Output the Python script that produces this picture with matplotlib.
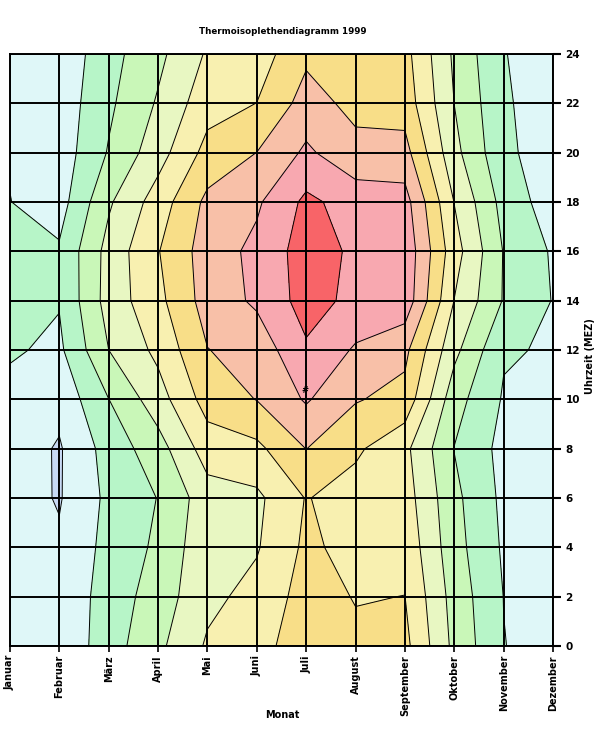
import numpy as np
import matplotlib
matplotlib.use("Agg")
import matplotlib.pyplot as plt

plt.rcParams["font.family"] = ["DejaVu Sans"]
plt.rcParams["font.weight"] = "bold"

months = ["Januar", "Februar", "März", "April", "Mai", "Juni", "Juli",
          "August", "September", "Oktober", "November", "Dezember"]
hours = [0, 2, 4, 6, 8, 10, 12, 14, 16, 18, 20, 22, 24]

# mean temperature per month, hours 0..24
t_jan = [0.9, 0.9, 0.9, 0.86, 1.01, 1.39, 2.23, 2.3, 2.3, 2.03, 1.87, 1.3, 1.0]
t_feb = [0.38, 0.5, 0.28, -0.15, -0.19, 0.56, 1.61, 2.13, 2.25, 1.15, 0.87, 0.77, 0.55]
t_mar = [3.1, 2.88, 2.62, 2.45, 2.8, 3.98, 6.0, 6.81, 6.7, 5.72, 4.16, 3.63, 3.29]
t_apr = [5.55, 4.94, 4.37, 4.06, 5.15, 7.12, 8.5, 9.46, 9.9, 8.95, 7.16, 6.22, 5.51]
t_mai = [8.26, 7.5, 7.43, 7.12, 8.98, 10.84, 11.95, 12.85, 12.96, 12.49, 10.67, 9.22, 8.24]
t_jun = [9.3, 8.64, 7.83, 7.58, 9.53, 12.06, 12.78, 14.34, 14.51, 13.7, 12.02, 10.02, 9.0]
t_jul = [11.1, 10.8, 10.4, 10.1, 12.03, 14.22, 15.73, 16.81, 16.93, 16.44, 14.36, 12.8, 11.6]
t_aug = [10.4, 9.9, 9.33, 9.13, 10.35, 12.15, 13.76, 15.47, 15.66, 15.17, 12.6, 11.45, 11.4]
t_sep = [10.55, 10.02, 9.42, 8.92, 8.5, 11.35, 12.5, 15.3, 15.44, 14.8, 12.71, 11.13, 10.66]
t_okt = [5.49, 5.2, 4.75, 4.5, 3.95, 4.8, 6.55, 7.96, 8.85, 7.95, 6.6, 5.98, 5.65]
t_nov = [2.05, 1.97, 1.74, 1.55, 1.38, 1.81, 2.2, 3.86, 3.9, 3.29, 2.45, 2.3, 2.05]
t_dez = [1.2, 1.2, 1.2, 1.2, 1.2, 1.2, 1.8, 1.92, 1.77, 0.96, 0.93, 0.8, 1.4]

levels = [0, 2, 4, 6, 8, 10, 12, 14, 16]
colors = ["#c8daf5", "#dff7f8", "#b7f5c8", "#c9f7b8", "#e8f7c2",
          "#f8f0b0", "#f8de88", "#f8c0a8", "#f8a8b0", "#f86468"]

Z = np.column_stack([t_jan, t_feb, t_mar, t_apr, t_mai, t_jun,
                     t_jul, t_aug, t_sep, t_okt, t_nov, t_dez])
x = np.arange(len(months))
y = np.array(hours)

fig = plt.figure(figsize=(5.96, 7.37), dpi=100)
ax = fig.add_axes([10 / 596, 1 - 646 / 737, 543 / 596, 592 / 737])

ax.contourf(x, y, Z, levels=[-50] + levels + [50], colors=colors)
ax.contour(x, y, Z, levels=levels, colors="black", linewidths=0.7)

# marker seen near the July maximum
ax.text(5.98, 10.35, "#", fontsize=6, ha="center", va="center")

ax.set_xlim(0, 11)
ax.set_ylim(0, 24)
ax.set_xticks(x)
ax.set_xticklabels(months, rotation=90, fontsize=7)
ax.set_yticks(hours)
ax.yaxis.tick_right()
ax.tick_params(axis="y", length=6, width=1.5, pad=3, labelsize=7.5)
ax.tick_params(axis="x", length=4.5, width=1.2, pad=2)
ax.set_axisbelow(False)
ax.grid(True, color="black", linewidth=1.4)
for s in ax.spines.values():
    s.set_linewidth(1.4)

fig.text(283 / 596, 1 - 31 / 737, "Thermoisoplethendiagramm 1999",
         ha="center", va="center", fontsize=6.3)
fig.text(282 / 596, 1 - 715 / 737, "Monat", ha="center", va="center", fontsize=7)
fig.text(590 / 596, 1 - 356 / 737, "Uhrzeit (MEZ)", ha="center", va="center",
         rotation=90, fontsize=7)

fig.savefig("out.png", dpi=100)
